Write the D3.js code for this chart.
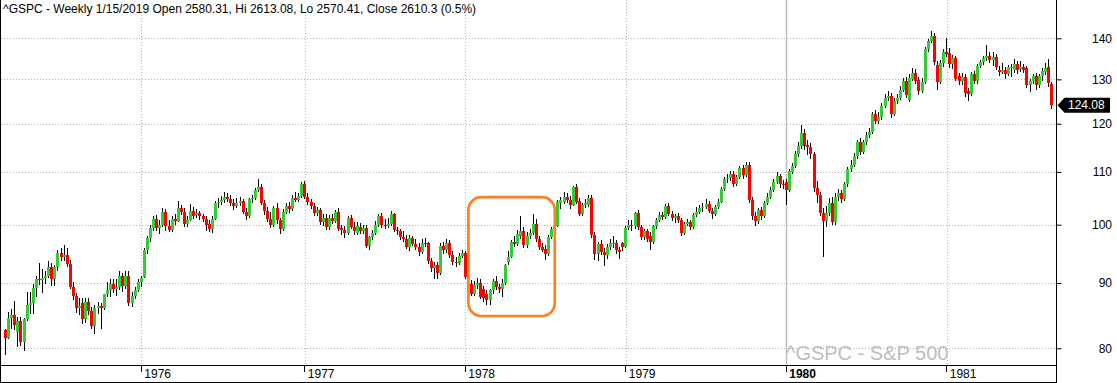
<!DOCTYPE html>
<html><head><meta charset="utf-8">
<script src="https://cdn.jsdelivr.net/npm/d3@7"></script>
<style>body{margin:0;background:#fff;} svg{display:block;font-family:"Liberation Sans",Arial,sans-serif;}</style>
</head><body><svg id="c" width="1117" height="383"></svg>
<script>
const open=[
82.7,81.5,84.5,85.0,82.4,84.1,80.9,84.3,86.5,86.8,
89.2,90.6,90.5,90.8,91.2,92.6,90.6,92.6,95.0,94.4,
94.7,93.2,89.4,87.9,86.1,86.8,84.3,86.9,85.6,83.3,
86.0,86.3,86.0,88.2,88.9,89.9,89.0,89.4,91.1,89.5,
91.2,86.8,87.9,88.9,90.2,91.0,95.5,97.7,99.4,101.0,
99.4,99.9,102.4,99.7,99.0,101.0,100.7,103.1,102.4,100.2,
100.9,102.5,101.8,102.1,101.5,101.1,100.2,99.2,101.0,104.0,
104.2,104.6,105.1,104.8,104.0,103.5,103.9,104.3,102.4,101.5,
104.7,104.9,106.5,107.1,104.0,102.5,101.0,99.9,103.0,100.9,
99.2,102.3,103.5,102.8,104.9,104.5,105.3,107.6,105.1,104.2,
103.5,102.1,102.6,100.4,101.2,99.5,101.3,100.7,102.3,99.4,
99.1,98.5,101.2,99.6,98.5,99.6,98.9,99.4,96.3,97.8,
98.5,100.0,101.5,100.0,99.7,100.1,101.9,99.0,98.8,97.8,
97.4,96.1,97.6,96.6,96.1,95.2,96.8,96.7,93.6,92.5,
92.9,91.7,96.3,95.5,96.8,94.7,93.5,93.3,94.5,95.0,
89.6,89.9,88.3,89.7,90.0,89.0,88.3,87.3,88.8,90.3,
89.3,89.1,90.0,93.5,94.4,97.0,96.6,98.0,98.8,96.4,
98.0,98.5,100.1,97.4,96.1,95.7,94.9,97.8,99.2,99.8,
104.0,104.2,105.2,104.6,103.7,107.0,104.4,102.0,103.6,103.6,
105.0,98.1,94.8,96.5,95.2,94.6,96.1,96.6,96.8,95.5,
96.7,96.1,99.4,100.0,99.7,102.1,99.5,97.8,98.8,98.0,
97.0,99.7,100.8,101.8,101.4,103.4,102.0,101.2,101.5,100.8,
98.5,100.2,100.4,99.6,101.8,102.3,103.0,103.3,103.8,102.5,
101.9,103.3,104.2,106.7,108.6,108.7,109.6,107.7,108.9,110.7,
109.4,111.4,104.6,101.6,100.6,102.6,101.6,104.0,105.2,106.5,
108.0,109.1,107.7,108.0,106.5,110.0,111.1,113.6,115.2,118.1,
115.5,115.0,113.6,106.9,105.6,102.2,100.7,102.2,103.9,100.5,
105.2,105.9,104.8,107.6,110.6,111.4,113.3,116.0,114.0,116.1,
117.6,118.2,122.1,120.6,121.4,123.8,125.7,126.2,122.1,125.1,
125.8,127.6,129.5,125.3,130.1,131.6,129.8,127.4,129.4,137.2,
139.4,140.6,133.3,129.3,133.9,136.6,136.3,133.7,135.0,130.8,
129.5,130.6,127.2,126.6,131.3,129.7,133.1,134.1,135.0,135.7,
134.7,135.4,132.1,131.7,132.3,131.3,132.6,132.1,133.7,132.5,
132.9,132.7,128.6,129.6,130.9,128.6,130.9,131.7,132.9,128.9];
const high=[
82.9,85.4,85.9,87.1,84.6,84.6,84.5,88.6,88.5,89.9,
91.2,93.4,92.3,91.9,93.6,93.4,93.0,95.6,95.9,96.4,
95.9,93.8,90.1,88.4,87.6,87.6,87.6,87.6,86.2,86.5,
86.9,86.8,88.3,90.1,90.6,90.7,90.7,91.9,91.6,91.9,
91.9,88.6,89.4,90.6,91.2,95.8,97.9,99.9,101.6,101.8,
100.8,103.0,102.8,100.8,101.6,101.9,104.3,103.7,103.0,101.5,
103.8,103.2,102.8,102.5,102.0,101.6,100.8,101.5,104.4,104.9,
105.4,106.0,105.9,105.5,104.8,104.9,105.2,104.8,103.0,105.0,
105.6,106.9,108.6,107.6,104.6,103.3,102.4,103.4,104.0,101.3,
102.8,104.0,104.2,105.5,106.0,105.9,108.0,108.3,105.8,104.7,
104.0,103.2,103.0,102.0,101.9,101.8,101.9,102.7,103.0,100.0,
99.7,101.6,101.8,100.4,100.5,100.3,100.0,99.9,98.0,99.1,
100.6,102.0,102.2,101.0,101.2,102.5,102.2,99.6,99.3,98.9,
98.1,98.2,98.0,97.5,96.8,97.4,97.6,97.0,94.1,93.5,
93.5,96.8,96.9,97.4,97.3,95.3,94.3,95.1,95.6,95.4,
90.9,90.5,90.3,90.8,90.6,89.6,88.8,89.1,90.6,91.2,
89.8,90.6,93.2,95.4,97.3,97.9,99.0,101.5,99.5,98.6,
99.2,102.0,101.0,98.0,96.8,96.4,98.2,99.6,100.4,104.6,
105.1,106.0,105.9,105.3,107.3,107.6,104.9,104.0,104.8,105.5,
105.6,98.6,97.0,97.2,95.8,96.6,97.5,97.9,97.3,96.0,
97.0,99.7,100.8,100.8,102.4,102.6,100.0,99.3,99.2,98.6,
100.0,101.2,102.3,102.3,103.8,103.9,102.5,102.0,102.1,101.3,
100.5,101.0,100.9,102.2,103.2,103.6,104.0,104.8,104.3,103.0,
103.7,104.8,107.0,109.0,109.6,110.2,110.1,109.4,111.2,111.4,
112.0,111.9,105.2,102.4,103.0,103.3,104.4,105.8,107.0,108.6,
109.9,109.5,108.4,108.6,110.6,111.8,114.3,116.0,119.8,118.9,
116.5,115.9,114.0,108.2,106.1,103.0,103.5,105.0,105.2,105.8,
106.7,106.5,108.0,111.0,112.4,113.9,116.6,117.0,116.6,118.2,
119.0,122.6,123.0,122.6,124.6,126.5,127.4,126.9,125.7,126.7,
128.4,130.4,130.6,131.2,132.7,132.4,130.6,130.3,137.9,139.9,
141.8,141.3,134.4,134.6,137.2,140.0,137.6,135.8,135.7,131.5,
131.4,131.2,127.9,131.7,132.0,133.6,134.7,135.6,138.3,136.5,
136.7,136.0,133.1,133.9,132.9,133.4,133.6,134.8,134.3,134.4,
133.6,133.2,130.1,131.3,131.5,131.3,132.6,134.0,134.8,129.3];
const low=[
79.0,81.3,82.9,82.7,80.2,80.4,79.6,84.1,85.1,85.1,
87.7,89.7,88.4,89.9,90.9,89.6,89.6,91.9,93.7,93.7,
92.6,89.1,87.3,85.3,85.0,83.6,83.7,84.9,82.9,82.1,
85.1,82.8,85.8,87.7,87.8,88.4,87.9,88.9,88.6,89.1,
86.3,86.2,87.4,88.5,89.3,90.9,94.9,96.9,98.8,98.9,
98.4,99.5,98.9,98.6,98.7,99.9,100.5,101.7,99.6,99.5,
100.6,101.0,101.2,100.8,100.4,98.9,98.7,98.5,100.8,103.0,
103.6,104.0,104.2,103.4,102.7,103.0,103.4,101.9,100.9,101.3,
104.0,104.6,106.0,103.6,101.8,100.5,99.4,99.6,100.2,98.4,
98.9,101.9,102.2,102.5,104.1,104.2,105.0,104.7,103.7,102.9,
101.5,101.6,100.0,99.8,99.1,99.1,100.2,100.3,98.8,98.1,
97.6,98.1,99.2,98.1,98.2,98.3,98.4,95.8,95.5,97.2,
98.1,99.6,99.4,99.2,99.4,99.7,98.6,98.1,97.3,96.9,
95.7,95.4,96.2,95.6,94.5,94.9,96.0,93.2,91.8,90.6,
90.6,91.4,94.9,95.1,94.2,92.9,92.6,93.0,94.1,90.6,
88.3,87.9,87.9,89.0,87.5,87.0,86.5,86.5,88.3,88.9,
88.4,87.8,89.7,93.0,94.1,96.0,96.2,97.5,95.9,95.8,
97.5,98.1,97.0,95.5,95.2,93.9,94.5,97.4,98.6,99.5,
102.9,103.8,104.0,102.8,103.4,103.8,101.5,101.6,103.1,103.2,
97.6,93.8,93.6,94.7,92.8,94.0,95.6,95.8,94.8,94.0,
95.3,95.8,99.1,98.9,99.3,99.1,97.3,97.3,96.9,95.6,
96.6,99.3,100.4,100.8,101.0,101.6,100.6,100.3,100.3,97.9,
98.1,99.7,99.1,99.2,101.4,101.9,102.4,102.9,102.1,101.1,
101.5,102.9,103.9,106.3,107.8,108.2,107.1,107.2,108.5,108.5,
109.0,103.9,100.8,99.7,100.1,100.8,101.2,103.6,104.8,106.1,
107.6,106.9,106.7,103.7,106.0,109.5,110.7,112.9,114.6,114.4,
113.4,112.6,106.0,103.9,101.6,94.4,99.5,101.6,99.9,100.0,
104.3,104.0,104.3,107.1,110.0,110.9,112.6,113.4,113.6,115.5,
117.0,117.8,120.0,120.0,120.8,123.4,125.0,121.3,121.6,124.4,
125.3,127.1,125.7,124.8,129.6,128.8,126.3,126.8,128.9,136.6,
138.9,133.4,127.5,128.8,133.0,135.3,132.7,132.4,129.6,128.6,
128.7,126.0,125.1,126.1,128.9,129.0,132.6,133.5,134.4,133.9,
133.2,132.2,130.7,131.2,130.1,130.8,130.6,131.6,131.2,131.8,
131.6,127.9,127.0,128.9,127.5,128.0,129.6,131.0,128.3,123.3];
const close=[
81.5,84.5,85.0,83.5,84.1,80.9,84.3,86.5,86.8,89.2,
90.6,90.5,90.8,91.2,92.6,90.6,92.6,95.0,94.4,94.7,
93.2,89.4,87.9,86.1,86.4,84.3,86.9,85.6,83.3,86.0,
86.3,86.0,88.2,88.9,89.9,89.0,89.4,91.1,89.5,91.2,
86.8,87.9,88.9,90.2,90.9,95.5,97.7,99.4,101.0,99.4,
99.9,102.4,99.7,99.0,101.0,100.7,103.1,102.4,100.2,100.9,
102.5,101.6,102.1,101.5,101.1,100.0,99.2,101.0,104.0,104.2,
104.6,105.1,104.8,104.0,103.5,104.0,104.3,102.4,101.5,104.7,
104.9,106.5,107.1,104.0,102.5,101.0,99.9,103.0,100.9,99.2,
102.3,103.5,102.8,104.9,104.5,105.3,107.6,105.1,104.2,103.5,
102.1,102.6,100.4,101.2,99.5,101.3,100.7,102.3,99.2,99.1,
98.5,101.2,99.6,98.8,99.7,98.9,99.4,96.3,97.8,98.5,
100.0,101.5,100.0,99.7,100.1,101.9,99.0,98.8,97.8,97.4,
96.1,97.6,96.6,96.1,95.2,96.8,96.7,93.6,92.5,92.9,
91.7,96.3,95.5,96.8,94.7,93.5,93.3,94.5,95.0,91.0,
89.9,88.3,89.7,90.0,87.8,87.6,87.3,88.8,90.3,89.3,
89.1,90.0,92.9,94.4,97.0,96.6,98.3,98.8,96.4,98.0,
98.5,100.1,97.4,96.0,95.6,94.9,97.8,99.2,99.8,104.2,
104.5,105.2,104.6,103.7,107.0,104.2,102.0,103.6,104.0,105.0,
98.1,94.8,96.5,95.2,94.6,96.1,96.7,96.8,95.5,95.2,
96.1,99.4,100.0,99.7,102.1,99.5,97.8,98.8,97.5,97.0,
99.7,100.8,101.8,101.4,103.4,102.0,101.2,101.5,100.8,98.5,
100.2,100.4,99.6,101.8,102.3,103.0,103.3,103.8,102.5,101.9,
103.3,104.2,106.7,108.6,108.7,109.6,107.7,108.9,110.7,109.4,
111.4,104.6,101.6,100.6,102.6,101.6,104.0,105.2,106.5,108.0,
109.1,107.7,107.4,106.5,110.1,111.1,113.6,115.2,118.1,115.2,
115.0,113.6,106.9,105.6,102.2,100.7,102.2,103.9,100.5,105.2,
105.9,104.8,107.6,110.6,111.4,113.3,116.0,114.0,116.1,117.6,
118.2,122.1,120.6,121.4,123.8,125.7,126.2,122.1,125.1,125.8,
127.6,129.5,126.3,130.4,131.6,129.7,127.4,129.3,137.2,139.4,
140.6,134.1,129.3,133.9,136.6,136.2,133.7,135.0,130.2,129.5,
130.6,126.9,126.6,131.3,129.7,133.1,134.1,135.0,135.7,134.7,
135.4,132.9,131.7,132.1,131.3,132.9,133.0,133.7,132.3,132.9,
132.3,128.6,129.6,130.9,128.6,130.9,131.9,132.7,129.1,124.08];

const yTicks=[80,90,100,110,120,130,140];
const yearLabels=["1976","1977","1978","1979","1980","1981"];
const yearIndex=[44,97,149,201,253,305];
const boldYear="1980";
const title="^GSPC - Weekly 1/15/2019 Open 2580.31, Hi 2613.08, Lo 2570.41, Close 2610.3 (0.5%)";
const watermark="^GSPC - S&P 500";
const boxBars=[150,178];
const boxPrices=[84.8,105.1];

const plotRight=1056.5, axisY=365.5, bottomY=382.5;
const svg=d3.select("#c");
const x=d3.scaleBand().domain(d3.range(close.length)).range([3.96,1053.2]).padding(0);
const y=d3.scaleLog().domain([80,140]).range([348.3,38.3]);
const cx=i=>x(i)+x.bandwidth()/2;

// gridlines
const grid=svg.append("g");
grid.selectAll("line.h").data(yTicks).join("line").attr("class","h")
  .attr("x1",1).attr("x2",plotRight).attr("y1",d=>Math.round(y(d))+0.5).attr("y2",d=>Math.round(y(d))+0.5)
  .attr("stroke","#b4b4b4").attr("stroke-dasharray","1,2");
grid.selectAll("line.v").data(yearIndex).join("line").attr("class","v")
  .attr("x1",d=>Math.round(cx(d))+0.5).attr("x2",d=>Math.round(cx(d))+0.5)
  .attr("y1",0).attr("y2",axisY)
  .attr("stroke",(d,i)=>yearLabels[i]===boldYear?"#c0c0c0":"#b4b4b4")
  .attr("stroke-width",(d,i)=>yearLabels[i]===boldYear?1.6:1)
  .attr("stroke-dasharray",(d,i)=>yearLabels[i]===boldYear?null:"1,2");

// watermark
svg.append("text").attr("x",786).attr("y",359.5).attr("font-size",20).attr("fill","#bdbdbd").text(watermark);

// candles
const cg=svg.append("g").attr("shape-rendering","crispEdges");
const idx=d3.range(close.length);
cg.selectAll("rect.w").data(idx).join("rect").attr("class","w")
  .attr("x",i=>Math.round(cx(i)-1.5)+1).attr("width",1)
  .attr("y",i=>y(Math.max(high[i],open[i],close[i])))
  .attr("height",i=>y(Math.min(low[i],open[i],close[i]))-y(Math.max(high[i],open[i],close[i])))
  .attr("fill","#000");
cg.selectAll("rect.b").data(idx).join("rect").attr("class","b")
  .attr("x",i=>Math.round(cx(i)-1.5)).attr("width",3)
  .attr("y",i=>y(Math.max(open[i],close[i])))
  .attr("height",i=>Math.max(1,y(Math.min(open[i],close[i]))-y(Math.max(open[i],close[i]))))
  .attr("fill",i=>close[i]>=open[i]?"#33cc33":"#ff0000");

// annotation box
svg.append("rect").attr("x",cx(boxBars[0])).attr("width",cx(boxBars[1])-cx(boxBars[0]))
  .attr("y",y(boxPrices[1])).attr("height",y(boxPrices[0])-y(boxPrices[1]))
  .attr("rx",13).attr("ry",13).attr("fill","none").attr("stroke","#ff7f27").attr("stroke-width",2.7);

// title
svg.append("rect").attr("x",0).attr("y",0).attr("width",482).attr("height",15).attr("fill","#fff");
svg.append("text").attr("x",3).attr("y",13).attr("font-size",12).attr("fill","#000").text(title);

// frame
const fr=svg.append("g").attr("stroke","#000").attr("shape-rendering","crispEdges");
fr.append("line").attr("x1",0.5).attr("x2",0.5).attr("y1",0).attr("y2",383);
fr.append("line").attr("x1",plotRight).attr("x2",plotRight).attr("y1",0).attr("y2",383);
fr.append("line").attr("x1",0).attr("x2",plotRight).attr("y1",axisY).attr("y2",axisY);
fr.append("line").attr("x1",0).attr("x2",plotRight).attr("y1",bottomY).attr("y2",bottomY);

// x axis
const xa=svg.append("g").attr("transform",`translate(0,${axisY})`)
  .call(d3.axisBottom(x).tickValues(yearIndex).tickFormat(d=>yearLabels[yearIndex.indexOf(d)]).tickSize(6).tickPadding(0));
xa.select(".domain").remove();
xa.selectAll(".tick line").attr("stroke","#000").attr("shape-rendering","crispEdges");
xa.selectAll(".tick text").attr("text-anchor","start").attr("x",3).attr("y",4).attr("dy","0.71em")
  .attr("font-size",12).attr("font-family","Liberation Sans, Arial, sans-serif").attr("fill","#000")
  .attr("font-weight",(d)=>yearLabels[yearIndex.indexOf(d)]===boldYear?"bold":"normal");

// y axis
const ya=svg.append("g").attr("transform",`translate(${plotRight},0)`)
  .call(d3.axisRight(y).tickValues(yTicks).tickFormat(d3.format("d")).tickSize(5));
ya.select(".domain").remove();
ya.selectAll(".tick line").attr("stroke","#000");
ya.selectAll(".tick text").attr("text-anchor","end").attr("x",55.5)
  .attr("font-size",12).attr("font-family","Liberation Sans, Arial, sans-serif").attr("fill","#000");

// last price tag
const last=close[close.length-1];
const ly=y(last);
svg.append("path").attr("d",`M${plotRight+1},${ly} L${plotRight+8},${ly-7.5} L1110,${ly-7.5} L1110,${ly+7.5} L${plotRight+8},${ly+7.5} Z`).attr("fill","#000");
svg.append("text").attr("x",1068).attr("y",ly+4.3).attr("font-size",12).attr("fill","#fff").text(d3.format(".2f")(last));
</script></body></html>
